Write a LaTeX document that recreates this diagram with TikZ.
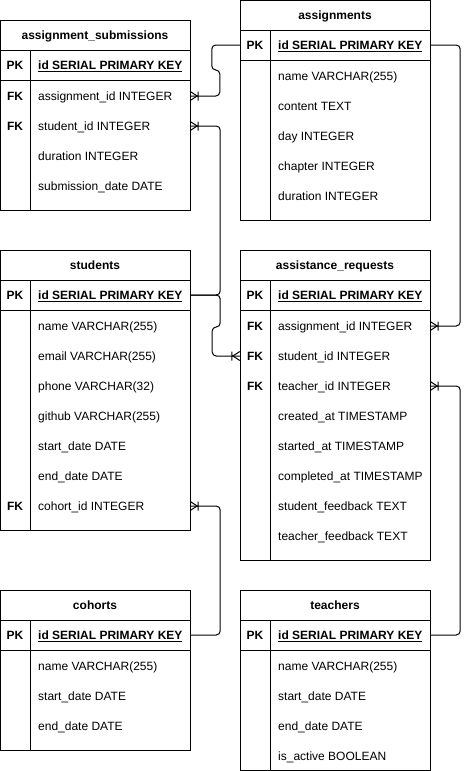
\documentclass[tikz,border=0pt]{standalone}
\usepackage{fontspec}
\setmainfont{Liberation Sans}
\tikzset{
  every node/.style={font=\fontsize{12}{14}\selectfont, inner sep=0pt},
  tbl/.style={draw, line width=1pt, minimum width=190pt, anchor=north west},
  rowbox/.style={minimum width=190pt, minimum height=30pt},
  keytxt/.style={anchor=base, font=\fontsize{12}{14}\selectfont\bfseries},
  fldtxt/.style={anchor=base west},
  pktxt/.style={anchor=base west, font=\fontsize{12}{14}\selectfont\bfseries},
  sep/.style={line width=1pt},
  conn/.style={line width=1pt, rounded corners=4pt},
  crow/.pic={\draw[line width=1pt] (0,-4.5) -- (7,0) -- (0,4.5) (8,-4.5) -- (8,4.5);}
}
\newcommand{\ertable}[5]{% name, x, top, height, title
  \node[tbl, minimum height=#4pt] (#1) at (#2,#3) {};
  \node[keytxt] (#1-title) at (#2+95,#3+19.5) {#5};
  \draw[sep] (#2,#3+30) -- (#2+190,#3+30);
  \draw[sep] (#2,#3+60) -- (#2+190,#3+60);
  \draw[sep] (#2+30,#3+30) -- (#2+30,#3+#4);
  \node[rowbox] (#1-pk) at (#2+95,#3+45) {};
  \node[keytxt] (#1-pkk) at (#2+15,#3+49.5) {PK};
  \node[pktxt] (#1-pkt) at (#2+38,#3+49.5) {\underline{id SERIAL PRIMARY KEY}};
}
\newcommand{\fld}[5]{% name, x, y, key, text
  \node[rowbox] (#1) at (#2+95,#3) {};
  \node[keytxt] (#1-k) at (#2+15,#3+4.5) {#4};
  \node[fldtxt] (#1-t) at (#2+38,#3+4.5) {#5};
}
\begin{document}
\begin{tikzpicture}[x=1pt,y=-1pt]
\useasboundingbox (0,0) rectangle (469,771);

% assignment_submissions
\ertable{as}{0}{20}{190}{assignment\_submissions}
\fld{as-aid}{0}{96}{FK}{assignment\_id INTEGER}
\fld{as-sid}{0}{126}{FK}{student\_id INTEGER}
\fld{as-dur}{0}{156}{}{duration INTEGER}
\fld{as-sd}{0}{186}{}{submission\_date DATE}

% assignments
\ertable{a}{240}{0}{220}{assignments}
\fld{a-name}{240}{76}{}{name VARCHAR(255)}
\fld{a-content}{240}{106}{}{content TEXT}
\fld{a-day}{240}{136}{}{day INTEGER}
\fld{a-chap}{240}{166}{}{chapter INTEGER}
\fld{a-dur}{240}{196}{}{duration INTEGER}

% students
\ertable{stu}{0}{250}{280}{students}
\fld{stu-name}{0}{326}{}{name VARCHAR(255)}
\fld{stu-email}{0}{356}{}{email VARCHAR(255)}
\fld{stu-phone}{0}{386}{}{phone VARCHAR(32)}
\fld{stu-gh}{0}{416}{}{github VARCHAR(255)}
\fld{stu-sd}{0}{446}{}{start\_date DATE}
\fld{stu-ed}{0}{476}{}{end\_date DATE}
\fld{stu-cid}{0}{506}{FK}{cohort\_id INTEGER}

% assistance_requests
\ertable{ar}{240}{250}{310}{assistance\_requests}
\fld{ar-aid}{240}{326}{FK}{assignment\_id INTEGER}
\fld{ar-sid}{240}{356}{FK}{student\_id INTEGER}
\fld{ar-tid}{240}{386}{FK}{teacher\_id INTEGER}
\fld{ar-cr}{240}{416}{}{created\_at TIMESTAMP}
\fld{ar-st}{240}{446}{}{started\_at TIMESTAMP}
\fld{ar-co}{240}{476}{}{completed\_at TIMESTAMP}
\fld{ar-sf}{240}{506}{}{student\_feedback TEXT}
\fld{ar-tf}{240}{536}{}{teacher\_feedback TEXT}

% cohorts
\ertable{c}{0}{590}{160}{cohorts}
\fld{c-name}{0}{666}{}{name VARCHAR(255)}
\fld{c-sd}{0}{696}{}{start\_date DATE}
\fld{c-ed}{0}{726}{}{end\_date DATE}

% teachers
\ertable{t}{240}{590}{180}{teachers}
\fld{t-name}{240}{666}{}{name VARCHAR(255)}
\fld{t-sd}{240}{696}{}{start\_date DATE}
\fld{t-ed}{240}{726}{}{end\_date DATE}
\fld{t-act}{240}{756}{}{is\_active BOOLEAN}

% connectors
\draw[conn] (a-pk.west) -- ++(-28,0) -- ++(0,25) -- ++(8,0) |- (as-aid.east);
\draw[conn] (stu-pk.east) -- ++(30,0) |- (as-sid.east);
\draw[conn] (stu-pk.east) -- ++(30,0) -- ++(0,32) -- ++(-8,0) |- (ar-sid.west);
\draw[conn] (a-pk.east) -- ++(30,0) |- (ar-aid.east);
\draw[conn] (t-pk.east) -- ++(30,0) |- (ar-tid.east);
\draw[conn] (c-pk.east) -- ++(30,0) |- (stu-cid.east);

% crow's feet
\pic at (as-aid.east) {crow};
\pic at (as-sid.east) {crow};
\pic[rotate=180] at (ar-sid.west) {crow};
\pic at (ar-aid.east) {crow};
\pic at (ar-tid.east) {crow};
\pic at (stu-cid.east) {crow};
\end{tikzpicture}
\end{document}
